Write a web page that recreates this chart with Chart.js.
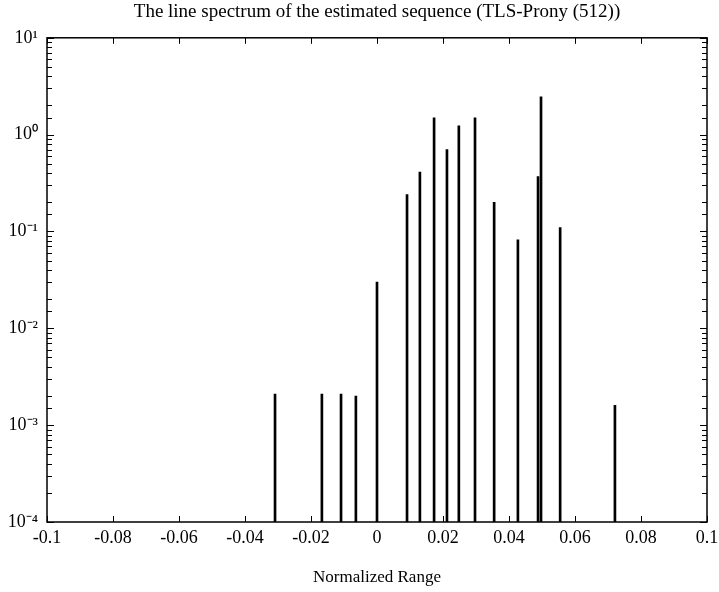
<!DOCTYPE html>
<html>
<head>
<meta charset="utf-8">
<script src="https://cdn.jsdelivr.net/npm/chart.js@4/dist/chart.umd.min.js"></script>
<style>
  body { margin: 0; background: #fff; }
</style>
</head>
<body>
<canvas id="myChart" width="719" height="592"></canvas>
<script>

// stem positions (normalized range) and amplitudes
const stemPos = [-0.0309, -0.0167, -0.0109, -0.0064, 0, 0.0091, 0.0130, 0.0173, 0.0212, 0.0248, 0.0297, 0.0355, 0.0427, 0.0488, 0.0497, 0.0555, 0.0721];
const stemAmp = [0.0021, 0.0021, 0.0021, 0.0020, 0.030, 0.24, 0.41, 1.49, 0.70, 1.23, 1.49, 0.20, 0.082, 0.37, 2.46, 0.11, 0.0016];

const xTicks = [-0.1, -0.08, -0.06, -0.04, -0.02, 0, 0.02, 0.04, 0.06, 0.08, 0.1];
const yDecades = [1e-4, 1e-3, 1e-2, 1e-1, 1e0, 1e1];
const yTickLabels = ['10⁻⁴', '10⁻³', '10⁻²', '10⁻¹', '10⁰', '10¹'];

const serif = 'Liberation Serif';

const frameTicks = {
    id: 'frameTicks',
    afterDraw(chart) {
        const ctx = chart.ctx;
        const a = chart.chartArea;
        const x = chart.scales.x;
        const y = chart.scales.y;
        ctx.save();
        ctx.strokeStyle = '#000';
        ctx.lineWidth = 1.5;
        ctx.strokeRect(a.left, a.top, a.right - a.left, a.bottom - a.top);
        ctx.lineWidth = 1;
        ctx.beginPath();
        xTicks.forEach(v => {
            const px = Math.round(x.getPixelForValue(v)) + 0.5;
            ctx.moveTo(px, a.bottom); ctx.lineTo(px, a.bottom - 6);
            ctx.moveTo(px, a.top); ctx.lineTo(px, a.top + 6);
        });
        y.ticks.forEach(t => {
            const py = Math.round(y.getPixelForValue(t.value)) + 0.5;
            const len = yDecades.some(d => Math.abs(d - t.value) / d < 1e-6) ? 7 : 5;
            ctx.moveTo(a.left, py); ctx.lineTo(a.left + len, py);
            ctx.moveTo(a.right, py); ctx.lineTo(a.right - len, py);
        });
        ctx.stroke();
        ctx.restore();
    }
};

const config = {
    type: 'bar',
    data: {
        datasets: [{
            data: stemPos.map((p, i) => ({ x: p, y: stemAmp[i] })),
            backgroundColor: '#000',
            borderWidth: 0,
            barThickness: 2
        }]
    },
    options: {
        responsive: false,
        animation: false,
        devicePixelRatio: 1,
        layout: { padding: { left: 0, right: 12, top: 0, bottom: 0 } },
        plugins: {
            legend: { display: false },
            tooltip: { enabled: false },
            title: {
                display: true,
                fullSize: false,
                text: 'The line spectrum of the estimated sequence (TLS-Prony (512))',
                color: '#000',
                font: { family: serif, size: 19, weight: 'normal' },
                padding: { top: 1, bottom: 14 }
            }
        },
        scales: {
            x: {
                type: 'linear',
                offset: false,
                min: -0.1,
                max: 0.1,
                grid: { display: false, drawTicks: false },
                border: { display: false },
                afterBuildTicks: s => { s.ticks = xTicks.map(v => ({ value: v })); },
                afterFit: s => { s.height = 70; s.paddingLeft = 0; s.paddingRight = 0; },
                ticks: {
                    autoSkip: false,
                    maxRotation: 0,
                    padding: 5,
                    color: '#000',
                    font: { family: serif, size: 18 },
                    callback: v => String(Math.round(v * 100) / 100)
                },
                title: {
                    display: true,
                    text: 'Normalized Range',
                    color: '#000',
                    font: { family: serif, size: 17 },
                    padding: { top: 0, bottom: 4 }
                }
            },
            y: {
                type: 'logarithmic',
                min: 1e-4,
                max: 10,
                grid: { display: false, drawTicks: false },
                border: { display: false },
                afterFit: s => { s.width = 47; s.paddingTop = 0; s.paddingBottom = 0; },
                ticks: {
                    autoSkip: false,
                    padding: 9,
                    color: '#000',
                    font: { family: serif, size: 18 },
                    callback: v => {
                        const i = yDecades.findIndex(d => Math.abs(d - v) / d < 1e-6);
                        return i >= 0 ? yTickLabels[i] : '';
                    }
                }
            }
        }
    },
    plugins: [frameTicks]
};

const myChart = new Chart(document.getElementById('myChart'), config);
</script>
</body>
</html>
